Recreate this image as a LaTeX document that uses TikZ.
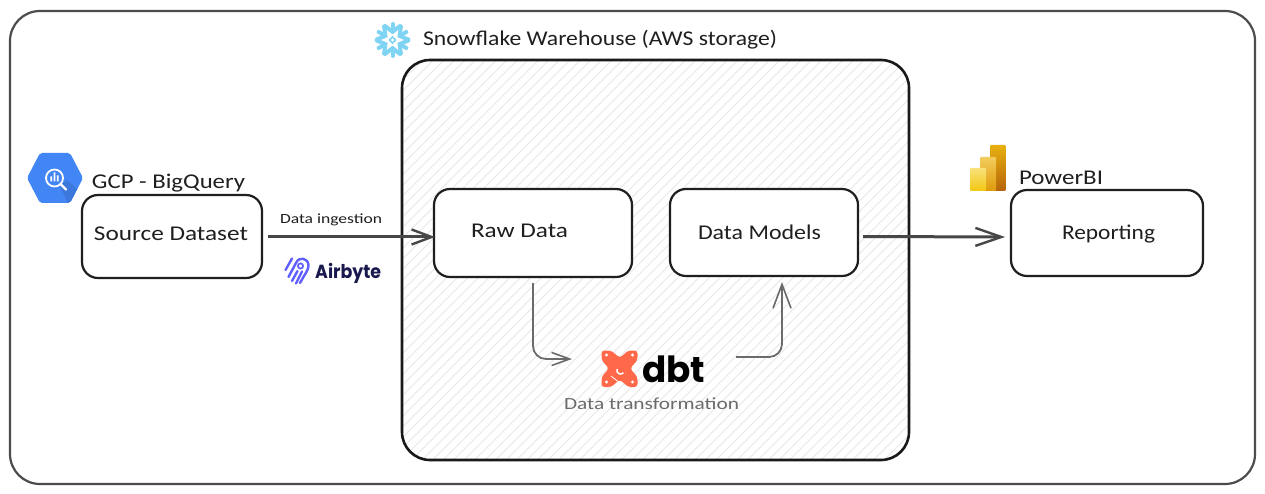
\documentclass[tikz,border=0pt]{standalone}
\usepackage{fontspec}
\usepackage{graphicx}
\setmainfont{Carlito}
\newfontfamily\logofont{Poppins}
\usetikzlibrary{arrows.meta,calc}
\newcommand{\fw}[2]{\resizebox{#1pt}{\height}{#2}}
\tikzset{
  x=1pt,y=-1pt,
  box/.style={draw=#1,line width=2.2pt,rounded corners=16pt,fill=white,inner sep=0pt,outer sep=0pt},
  box/.default={black!88},
  lab/.style={anchor=base,inner sep=0pt,outer sep=0pt,text=black!88,font=\fontsize{21}{21}\selectfont},
  small/.style={lab,font=\fontsize{14}{14}\selectfont},
  flow/.style 2 args={draw=black!72,line width=3pt,-{Straight Barb[length=#1,width=#2,line width=2.4pt]}},
  thin flow/.style 2 args={draw=black!58,line width=1.8pt,rounded corners=13pt,-{Straight Barb[length=#1,width=#2,line width=1.6pt]}},
}
\definecolor{bq}{HTML}{4285F4}
\definecolor{bqd}{HTML}{3C78DC}
\definecolor{snow}{HTML}{7FD3F3}
\definecolor{aby}{HTML}{615EFF}
\definecolor{abt}{HTML}{1A194D}
\definecolor{dbto}{HTML}{FF694A}
\definecolor{hatch}{HTML}{E8E8E8}
\definecolor{pa}{HTML}{E8B010}
\definecolor{pb}{HTML}{B5640A}
\definecolor{pc}{HTML}{F2CC5C}
\definecolor{pd}{HTML}{DE9A0A}
\definecolor{pe}{HTML}{F8E07A}
\definecolor{pf}{HTML}{F2C811}
\begin{document}
\begin{tikzpicture}
\useasboundingbox (0,0) rectangle (1265,494);
\fill[white] (0,0) rectangle (1265,494);
% outer frame
\node[box=black!70,rounded corners=30pt,fill=none,minimum width=1245pt,minimum height=473pt] (frame) at (632.5,247.5) {};
% warehouse hatch
\begin{scope}
\clip[rounded corners=28pt] (402,60) rectangle (909,460);
\foreach \i in {0,10.5,...,960}{
  \draw[hatch,line width=1pt] (402+\i-400,460) -- (402+\i,60);
}
\end{scope}
\node[box=black!90,rounded corners=28pt,fill=none,line width=2.6pt,minimum width=507pt,minimum height=400pt] (wh) at (655.5,260) {};
% boxes
\node[box,minimum width=180pt,minimum height=83pt] (src) at (172,236.5) {};
\node[box,minimum width=198pt,minimum height=88pt] (raw) at (533,233) {};
\node[box,minimum width=188pt,minimum height=87pt] (mod) at (764,232.5) {};
\node[box,minimum width=192pt,minimum height=86pt] (rep) at (1107,233) {};
% labels
\node[lab] (t1) at (168.5,189) {\fw{153}{GCP - BigQuery}};
\node[lab] (t2) at (171,241) {\fw{154}{Source Dataset}};
\node[small] (t3) at (331,224) {\fw{102}{Data ingestion}};
\node[lab] (t4) at (519.5,238) {\fw{97}{Raw Data}};
\node[lab] (t5) at (759.5,240) {\fw{123}{Data Models}};
\node[lab] (t6) at (1108.5,240) {\fw{93}{Reporting}};
\node[lab] (t7) at (1061,185) {\fw{84}{PowerBI}};
\node[lab] (t8) at (600,46) {\fw{354}{Snowflake Warehouse (AWS storage)}};
\node[lab,text=black!58,font=\fontsize{17}{17}\selectfont] (t9) at (651.5,409) {\fw{175}{Data transformation}};
% BigQuery logo
\begin{scope}
\path[clip,rounded corners=2pt] (27,178)--(40,153)--(70,153)--(83,178)--(70,203)--(40,203)--cycle;
\fill[bq] (20,150) rectangle (90,210);
\fill[bqd] (60,186)--(67,180)--(95,205)--(85,215)--(70,208)--cycle;
\end{scope}
\draw[white,line width=1.8pt] (54.5,178) circle (8.5);
\draw[white,line width=2.2pt,line cap=round] (60.5,184) -- (66,189.5);
\fill[white] (50.3,176.5) rectangle (52.1,181.5) (53.6,172.5) rectangle (55.4,181.5) (56.9,175.5) rectangle (58.7,181.5);
% Snowflake logo
\begin{scope}[shift={(392.5,40)}]
\foreach \a in {90,150,210,270,330,30}{
  \begin{scope}[rotate=\a]
    \draw[snow,line width=4pt,line cap=round] (9,0) -- (16,0);
    \draw[snow,line width=4pt,line cap=round,line join=miter] (14,7.5) -- (8.2,0) -- (14,-7.5);
  \end{scope}
}
\draw[snow,line width=1.6pt] (-3,0)--(0,-3)--(3,0)--(0,3)--cycle;
\end{scope}
% Airbyte logo
\draw[aby,line width=2.4pt,line cap=round] (288.5,277) -- (296,263) .. controls (299,256) and (308,258) .. (308.5,265) .. controls (308.5,269) and (306,273) .. (304,276) -- (300,283);
\draw[aby,line width=2.4pt,line cap=round] (285.5,270) -- (292,258.5);
\draw[aby,line width=2.4pt,line cap=round] (292,281) -- (297.5,271);
\draw[aby,line width=2.4pt,line cap=round] (296,283.5) -- (302,271.5);
\draw[aby,line width=1.7pt] (300.5,266) circle (2.6);
\node[anchor=base west,inner sep=0pt,text=abt,font=\logofont\bfseries\fontsize{19}{19}\selectfont] (aby) at (315,278) {\fw{66}{Airbyte}};
% dbt logo
\node[inner sep=0pt,outer sep=0pt,minimum width=103pt,minimum height=35pt] (dbtlogo) at (653.5,368.5) {};
\fill[dbto,rounded corners=3pt] (601.5,350.5)--(611,350.5)--(620,358)--(628,350.5)--(637.5,350.5)--(637.5,360)--(630,368.5)--(637.5,377)--(637.5,387)--(628,387)--(620,379.5)--(611,387)--(601.5,387)--(601.5,377)--(609,368.5)--(601.5,360)--cycle;
\fill[white] (606.5,355) circle (1.6) (632.5,355) circle (1.6) (606.5,382) circle (1.6) (632.5,382) circle (1.6);
\draw[white,line width=1.5pt] (617,369) arc (200:40:3.8);
\draw[white,line width=.8pt] (611,376) -- (620,383);
\node[anchor=base west,inner sep=0pt,font=\logofont\bfseries\fontsize{36}{36}\selectfont] (dbtt) at (642,382) {\fw{63}{dbt}};
% PowerBI logo
\shade[top color=pa,bottom color=pb,rounded corners=1pt] (990,145) rectangle (1005.5,191);
\shade[top color=pc,bottom color=pd,rounded corners=1pt] (980,157) rectangle (996,191);
\shade[top color=pe,bottom color=pf,rounded corners=1pt] (970,168) rectangle (986,191);
% connectors
\draw[flow={20pt}{15pt}] ([shift={(6,0.5)}]src.east) -- ([shift={(1,4)}]raw.west);
\draw[flow={26pt}{18pt}] ([shift={(5,4)}]mod.east) -- ([shift={(-6,4)}]rep.west);
\draw[thin flow={18pt}{13pt}] ([shift={(0,6)}]raw.south) |- ([shift={(-30,-9.5)}]dbtlogo.west);
\draw[thin flow={24pt}{18pt}] ([shift={(31,-11.5)}]dbtlogo.east) -| ([shift={(18,6)}]mod.south);
\end{tikzpicture}
\end{document}
